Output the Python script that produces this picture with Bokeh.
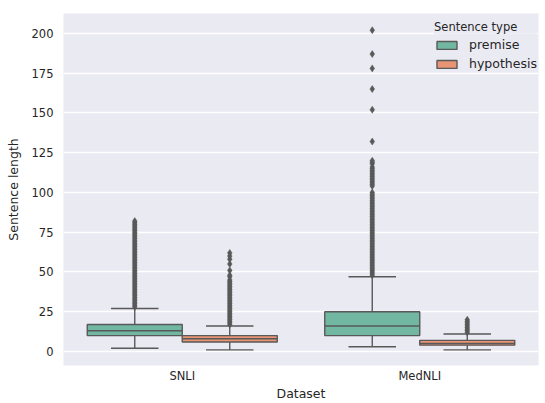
from bokeh.plotting import figure
from bokeh.models import Range1d, FixedTicker, Legend, LegendItem
from bokeh.embed import file_html
from bokeh.resources import INLINE

datasets = ["SNLI", "MedNLI"]
types = ["premise", "hypothesis"]

# box statistics per (dataset, type): q1, median, q3, lower whisker, upper whisker
q1 = {"SNLI": [10, 6], "MedNLI": [10, 4]}
med = {"SNLI": [13, 8], "MedNLI": [16, 5]}
q3 = {"SNLI": [17, 10], "MedNLI": [25, 7]}
wlo = {"SNLI": [2, 1], "MedNLI": [3, 1]}
whi = {"SNLI": [27, 16], "MedNLI": [47, 11]}

snli_premise_out = [28, 29, 30, 31, 32, 33, 34, 35, 36, 37, 38, 39, 40, 41, 42, 43, 44, 45,
                    46, 47, 48, 49, 50, 51, 52, 53, 54, 55, 56, 57, 58, 59, 60, 61, 62, 63,
                    64, 65, 66, 67, 68, 69, 70, 71, 72, 73, 74, 75, 76, 77, 78, 79, 80, 81, 82]
snli_hyp_out = [17, 18, 19, 20, 21, 22, 23, 24, 25, 26, 27, 28, 29, 30, 31, 32, 33, 34, 35,
                36, 37, 38, 39, 40, 41, 42, 43, 44, 45, 47, 48, 51, 55, 58, 60, 62]
mednli_premise_out = [48, 49, 50, 51, 52, 53, 54, 55, 56, 57, 58, 59, 60, 61, 62, 63, 64, 65,
                      66, 67, 68, 69, 70, 71, 72, 73, 74, 75, 76, 77, 78, 79, 80, 81, 82, 83,
                      84, 85, 86, 87, 88, 89, 90, 91, 92, 93, 94, 95, 96, 97, 98, 99, 100,
                      104, 105, 106, 107, 108, 109, 110, 111, 112, 113, 114, 115, 116, 118,
                      119, 120, 132, 152, 165, 178, 187, 202]
mednli_hyp_out = [12, 13, 14, 15, 16, 17, 18, 19, 20]
outliers = {"SNLI": [snli_premise_out, snli_hyp_out],
            "MedNLI": [mednli_premise_out, mednli_hyp_out]}

colors = ["#71b7a1", "#e99575"]
gray = "#595959"
ink = "#262626"
FONT = "DejaVu Sans"

p = figure(width=545, height=403, output_backend="svg", toolbar_location=None,
           x_range=Range1d(-0.5, 1.5), y_range=Range1d(-8.8, 212.5),
           min_border_left=63, min_border_right=7, min_border_top=13, min_border_bottom=35)
p.background_fill_color = "#eaeaf2"
p.border_fill_color = "white"
p.outline_line_color = None

box_w = 0.4
offsets = [-0.2, 0.2]
renderers = [None, None]
for di, d in enumerate(datasets):
    for ti in range(2):
        x = di + offsets[ti]
        p.segment(x0=[x, x], y0=[wlo[d][ti], q3[d][ti]], x1=[x, x], y1=[q1[d][ti], whi[d][ti]],
                  line_color=gray, line_width=1.4)
        p.segment(x0=[x - box_w / 4, x - box_w / 4], y0=[wlo[d][ti], whi[d][ti]],
                  x1=[x + box_w / 4, x + box_w / 4], y1=[wlo[d][ti], whi[d][ti]],
                  line_color=gray, line_width=1.4)
        r = p.vbar(x=[x], width=box_w, bottom=[q1[d][ti]], top=[q3[d][ti]],
                   fill_color=colors[ti], line_color=gray, line_width=1.4)
        renderers[ti] = r
        p.segment(x0=[x - box_w / 2], y0=[med[d][ti]], x1=[x + box_w / 2], y1=[med[d][ti]],
                  line_color=gray, line_width=1.4)
        ys = outliers[d][ti]
        p.scatter(x=[x] * len(ys), y=ys, marker="diamond", size=7,
                  fill_color=gray, line_color=gray, line_width=0.5)

p.xaxis.ticker = FixedTicker(ticks=[0, 1])
p.xaxis.major_label_overrides = {0: "SNLI", 1: "MedNLI"}
p.yaxis.ticker = FixedTicker(ticks=[0, 25, 50, 75, 100, 125, 150, 175, 200])
p.xgrid.grid_line_color = None
p.ygrid.grid_line_color = "white"
p.ygrid.grid_line_width = 1.3
for ax in (p.xaxis[0], p.yaxis[0]):
    ax.axis_line_color = None
    ax.major_tick_line_color = None
    ax.minor_tick_line_color = None
    ax.major_tick_out = 0
    ax.major_tick_in = 0
    ax.minor_tick_out = 0
    ax.minor_tick_in = 0
    ax.major_label_text_font = FONT
    ax.major_label_text_font_size = "11.5px"
    ax.major_label_text_color = ink
    ax.axis_label_text_font = FONT
    ax.axis_label_text_font_size = "12.5px"
    ax.axis_label_text_font_style = "normal"
    ax.axis_label_text_color = ink
p.xaxis.axis_label = "Dataset"
p.yaxis.axis_label = "Sentence length"
p.xaxis.major_label_standoff = 3
p.xaxis.axis_label_standoff = 0
p.yaxis.major_label_standoff = 10
p.yaxis.axis_label_standoff = 8

legend = Legend(items=[LegendItem(label=types[i], renderers=[renderers[i]]) for i in range(2)],
                location=(371, 294), title="Sentence type")
legend.title_text_font = FONT
legend.title_text_font_size = "11.5px"
legend.title_text_font_style = "normal"
legend.title_text_color = ink
legend.label_text_font = FONT
legend.label_text_font_size = "12.5px"
legend.label_text_color = ink
legend.background_fill_color = "#eaeaf2"
legend.background_fill_alpha = 0.8
legend.border_line_color = None
legend.glyph_width = 25
legend.glyph_height = 10
legend.label_height = 12
legend.label_standoff = 10
legend.spacing = 4
legend.padding = 5
legend.margin = 0
legend.title_standoff = 3
p.add_layout(legend)

open("out.html", "w").write(file_html(p, INLINE))
